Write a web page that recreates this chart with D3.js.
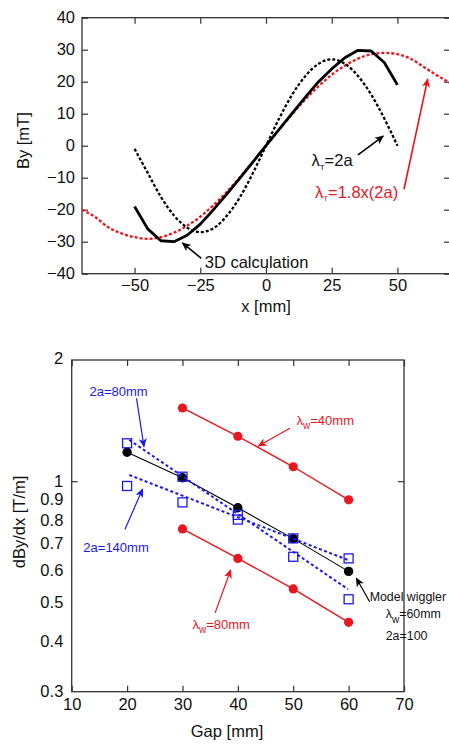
<!DOCTYPE html>
<html><head><meta charset="utf-8">
<script src="https://cdn.jsdelivr.net/npm/d3@7"></script>
<style>
body{margin:0;background:#fff}
svg{display:block}
text{font-family:"Liberation Sans",Arial,Helvetica,sans-serif;fill:#111}
</style>
</head><body>
<svg id="c" width="449" height="744"></svg>
<script>
// ---------- Top chart data ----------
const x3D   = [-50,-45,-40,-35,-30,-25,-20,-15,-10,-5,0,5,10,15,20,25,30,35,40,45,50];
const by3D  = [-19,-26,-29.7,-30,-28,-24.5,-20,-15.2,-10.2,-5.1,0,5.1,10.2,15.2,20,24,27.5,29.8,29.6,26,19];
const x2a   = [-50,-45,-40,-35,-30,-25,-20,-15,-10,-5,0,5,10,15,20,25,30,35,40,45,50];
const by2a  = [-1,-8.5,-16,-21.8,-25.6,-27,-25.8,-22,-16.2,-8.6,0,8.5,16,21.8,25.6,27,25.6,21.8,16,8.5,0];
const x18   = [-70,-65,-60,-55,-50,-45,-40,-35,-30,-25,-20,-15,-10,-5,0,5,10,15,20,25,30,35,40,45,50,55,60,65,70];
const by18  = [-20,-22.3,-25.5,-27.4,-28.6,-29.1,-28.6,-27.2,-25,-22.2,-18.6,-14.5,-9.9,-5,0,5,9.9,14.5,18.6,22.2,25,27.2,28.6,29,28.6,27.2,24.6,22,19.6];
const topXTicks = [-50,-25,0,25,50];
const topYTicks = [-40,-30,-20,-10,0,10,20,30,40];

// ---------- Bottom chart data ----------
const gaps      = [20,30,40,50,60];
const gapsW     = [30,40,50,60];
const lw40      = [1.52,1.293,1.086,0.899];
const lw80      = [0.761,0.643,0.540,0.446];
const model     = [1.18,1.02,0.859,0.72,0.597];
const sq80      = [1.242,1.026,0.825,0.649,0.509];
const sq140     = [0.973,0.886,0.803,0.721,0.643];
const fitGaps   = [20.4,59.9];
const fit80     = [1.266,0.539];
const fit140    = [1.036,0.637];
const botXTicks = [10,20,30,40,50,60,70];
const botYTicks = [0.3,0.4,0.5,0.6,0.7,0.8,0.9,1,2];

const RED="#e8161e", BLUE="#1a1ae8", BLACK="#000", FRAME="#333";
const svg = d3.select("#c");

// arrow markers
const defs = svg.append("defs");
[["ak",BLACK],["ar",RED],["ab",BLUE]].forEach(([id,col])=>{
  defs.append("marker").attr("id",id).attr("viewBox","0 0 10 10").attr("refX",9).attr("refY",5)
    .attr("markerWidth",9).attr("markerHeight",9).attr("markerUnits","userSpaceOnUse").attr("orient","auto")
    .append("path").attr("d","M0,0.5 L10,5 L0,9.5 L2.5,5 Z").attr("fill",col);
});

function lbl(g, x, y, parts, size, color, subSize){
  const t = g.append("text").attr("x",x).attr("y",y).attr("dominant-baseline","central")
    .style("font-size",size+"px").style("fill",color);
  parts.forEach(p=>{
    if(p.sub){
      t.append("tspan").text(p.t).attr("dy",size*0.4).style("font-size",subSize+"px");
    } else if(p.after){
      t.append("tspan").text(p.t).attr("dy",-size*0.4);
    } else t.append("tspan").text(p.t);
  });
  return t;
}

// ================= TOP CHART =================
{
  const L=82, R=450, T=17.7, B=273.7;
  const x = d3.scaleLinear().domain([-70,70]).range([L,R]);
  const y = d3.scaleLinear().domain([-40,40]).range([B,T]);
  const g = svg.append("g");

  const ax = g.append("g").attr("transform",`translate(0,${B})`)
    .call(d3.axisBottom(x).tickValues(topXTicks).tickSize(-6).tickPadding(6).tickFormat(d3.format("d")));
  const axT = g.append("g").attr("transform",`translate(0,${T})`)
    .call(d3.axisTop(x).tickValues(topXTicks).tickSize(-6).tickFormat(""));
  const ay = g.append("g").attr("transform",`translate(${L},0)`)
    .call(d3.axisLeft(y).tickValues(topYTicks).tickSize(-6).tickPadding(7).tickFormat(d3.format("d")));
  const ayR = g.append("g").attr("transform",`translate(${R},0)`)
    .call(d3.axisRight(y).tickValues(topYTicks).tickSize(-6).tickFormat(""));
  [ax,axT,ay,ayR].forEach(a=>{
    a.select(".domain").remove();
    a.selectAll(".tick line").attr("stroke",FRAME).attr("stroke-width",1.2);
    a.selectAll("text").style("font-size","16.5px").style("font-family","'Liberation Sans',Arial,sans-serif").attr("fill","#111");
  });
  g.append("rect").attr("x",L).attr("y",T).attr("width",R-L).attr("height",B-T)
    .attr("fill","none").attr("stroke",FRAME).attr("stroke-width",1.3);

  g.append("text").attr("x",(x(0))).attr("y",306).attr("text-anchor","middle").attr("dominant-baseline","central")
    .style("font-size","16.5px").text("x [mm]");
  g.append("text").attr("transform",`translate(23,${y(0)-5}) rotate(-90)`).attr("text-anchor","middle").attr("dominant-baseline","central")
    .style("font-size","16.5px").text("By [mT]");

  defs.append("clipPath").attr("id","cliptop").append("rect").attr("x",L).attr("y",T-2).attr("width",R-L).attr("height",B-T+4);
  const pg = g.append("g").attr("clip-path","url(#cliptop)");
  const line = d3.line().x(d=>x(d[0])).y(d=>y(d[1]));
  const lineS = d3.line().x(d=>x(d[0])).y(d=>y(d[1])).curve(d3.curveMonotoneX);

  pg.append("path").datum(x18.map((v,i)=>[v,by18[i]])).attr("d",lineS)
    .attr("fill","none").attr("stroke",RED).attr("stroke-width",2.3).attr("stroke-dasharray","3,2");
  pg.append("path").datum(x2a.map((v,i)=>[v,by2a[i]])).attr("d",lineS)
    .attr("fill","none").attr("stroke",BLACK).attr("stroke-width",2.3).attr("stroke-dasharray","3,2");
  pg.append("path").datum(x3D.map((v,i)=>[v,by3D[i]])).attr("d",line)
    .attr("fill","none").attr("stroke",BLACK).attr("stroke-width",2.8).attr("stroke-linejoin","round");

  const arrow=(x1,y1,x2,y2,col,m,w)=>g.append("line").attr("x1",x(x1)).attr("y1",y(y1)).attr("x2",x(x2)).attr("y2",y(y2))
    .attr("stroke",col).attr("stroke-width",w||1.6).attr("marker-end",`url(#${m})`);
  lbl(g, x(-23.3), y(-36.3), [{t:"3D calculation"}], 16.5, "#111");
  arrow(-24.6,-35.2,-31.8,-30.4,BLACK,"ak");
  lbl(g, x(17.3), y(-4.5), [{t:"λ"},{t:"T",sub:true},{t:"=2a",after:true}], 16.5, "#111", 8);
  arrow(35,-2.9,44.6,3.0,BLACK,"ak");
  lbl(g, x(18.6), y(-14.4), [{t:"λ"},{t:"T",sub:true},{t:"=1.8x(2a)",after:true}], 16.5, RED, 8);
  arrow(52.5,-13.6,61.5,20.8,RED,"ar");
}

// ================= BOTTOM CHART =================
{
  const L=71.7, R=404, T=360, B=691.7;
  const x = d3.scaleLinear().domain([10,70]).range([L,R]);
  const y = d3.scaleLog().domain([0.3,2]).range([B,T]);
  const g = svg.append("g");

  const ax = g.append("g").attr("transform",`translate(0,${B})`)
    .call(d3.axisBottom(x).tickValues(botXTicks).tickSize(-6).tickPadding(6.6).tickFormat(d3.format("d")));
  const axT = g.append("g").attr("transform",`translate(0,${T})`)
    .call(d3.axisTop(x).tickValues(botXTicks).tickSize(-6).tickFormat(""));
  const ay = g.append("g").attr("transform",`translate(${L},0)`)
    .call(d3.axisLeft(y).tickValues(botYTicks).tickSize(0).tickPadding(8.4).tickFormat(d=>String(d)));
  const ayT = g.append("g").attr("transform",`translate(${L},0)`)
    .call(d3.axisLeft(y).tickValues([1]).tickSize(-6).tickFormat(""));
  const ayR = g.append("g").attr("transform",`translate(${R},0)`)
    .call(d3.axisRight(y).tickValues([1]).tickSize(-6).tickFormat(""));
  [ax,axT,ay,ayT,ayR].forEach(a=>{
    a.select(".domain").remove();
    a.selectAll(".tick line").attr("stroke",FRAME).attr("stroke-width",1.2);
    a.selectAll("text").style("font-size","16.5px").style("font-family","'Liberation Sans',Arial,sans-serif").attr("fill","#111");
  });
  ay.selectAll(".tick").filter(d=>d===2).select("text").attr("dy","0.2em");
  g.append("rect").attr("x",L).attr("y",T).attr("width",R-L).attr("height",B-T)
    .attr("fill","none").attr("stroke",FRAME).attr("stroke-width",1.3);

  g.append("text").attr("x",227).attr("y",731).attr("text-anchor","middle").attr("dominant-baseline","central")
    .style("font-size","16.5px").text("Gap [mm]");
  g.append("text").attr("transform",`translate(18.5,522) rotate(-90)`).attr("text-anchor","middle").attr("dominant-baseline","central")
    .style("font-size","16.5px").text("dBy/dx [T/m]");

  const line = d3.line().x(d=>x(d[0])).y(d=>y(d[1]));
  const zip=(a,b)=>a.map((v,i)=>[v,b[i]]);

  [lw40,lw80].forEach(s=>{
    g.append("path").datum(zip(gapsW,s)).attr("d",line).attr("fill","none").attr("stroke",RED).attr("stroke-width",1.4);
    g.selectAll(null).data(zip(gapsW,s)).join("circle").attr("cx",d=>x(d[0])).attr("cy",d=>y(d[1])).attr("r",4.6).attr("fill",RED);
  });
  g.append("path").datum(zip(gaps,model)).attr("d",line).attr("fill","none").attr("stroke",BLACK).attr("stroke-width",1.1);
  g.selectAll(null).data(zip(gaps,model)).join("circle").attr("cx",d=>x(d[0])).attr("cy",d=>y(d[1])).attr("r",4.7).attr("fill",BLACK);
  [fit80,fit140].forEach(s=>{
    g.append("path").datum(zip(fitGaps,s)).attr("d",line).attr("fill","none").attr("stroke",BLUE)
      .attr("stroke-width",2).attr("stroke-dasharray","3,2.5");
  });
  [sq80,sq140].forEach(s=>{
    g.selectAll(null).data(zip(gaps,s)).join("rect").attr("x",d=>x(d[0])-4.5).attr("y",d=>y(d[1])-4.5)
      .attr("width",9).attr("height",9).attr("fill","none").attr("stroke",BLUE).attr("stroke-width",1.3);
  });

  const arrow=(x1,y1,x2,y2,col,m)=>g.append("line").attr("x1",x(x1)).attr("y1",y(y1)).attr("x2",x(x2)).attr("y2",y(y2))
    .attr("stroke",col).attr("stroke-width",1.2).attr("marker-end",`url(#${m})`);

  lbl(g, x(13.2), y(1.678), [{t:"2a=80mm"}], 13, BLUE);
  arrow(21.7,1.607,23.05,1.218,BLUE,"ab");
  lbl(g, x(12.1), y(0.688), [{t:"2a=140mm"}], 13, BLUE);
  arrow(19.6,0.759,22.8,0.956,BLUE,"ab");
  lbl(g, x(50.6), y(1.419), [{t:"λ"},{t:"w",sub:true},{t:"=40mm",after:true}], 13, RED, 10);
  arrow(49.4,1.353,43.7,1.223,RED,"ar");
  lbl(g, x(31.8), y(0.4418), [{t:"λ"},{t:"w",sub:true},{t:"=80mm",after:true}], 13, RED, 10);
  arrow(35.9,0.471,38.7,0.602,RED,"ar");
  lbl(g, x(63.8), y(0.5146), [{t:"Model wiggler"}], 12.4, "#111");
  lbl(g, x(66.7), y(0.4677), [{t:"λ"},{t:"w",sub:true},{t:"=60mm",after:true}], 12.4, "#111", 10);
  lbl(g, x(66.7), y(0.413), [{t:"2a=100"}], 12.4, "#111");
  arrow(63.8,0.502,61.4,0.574,BLACK,"ak");
}
</script>
</body></html>
